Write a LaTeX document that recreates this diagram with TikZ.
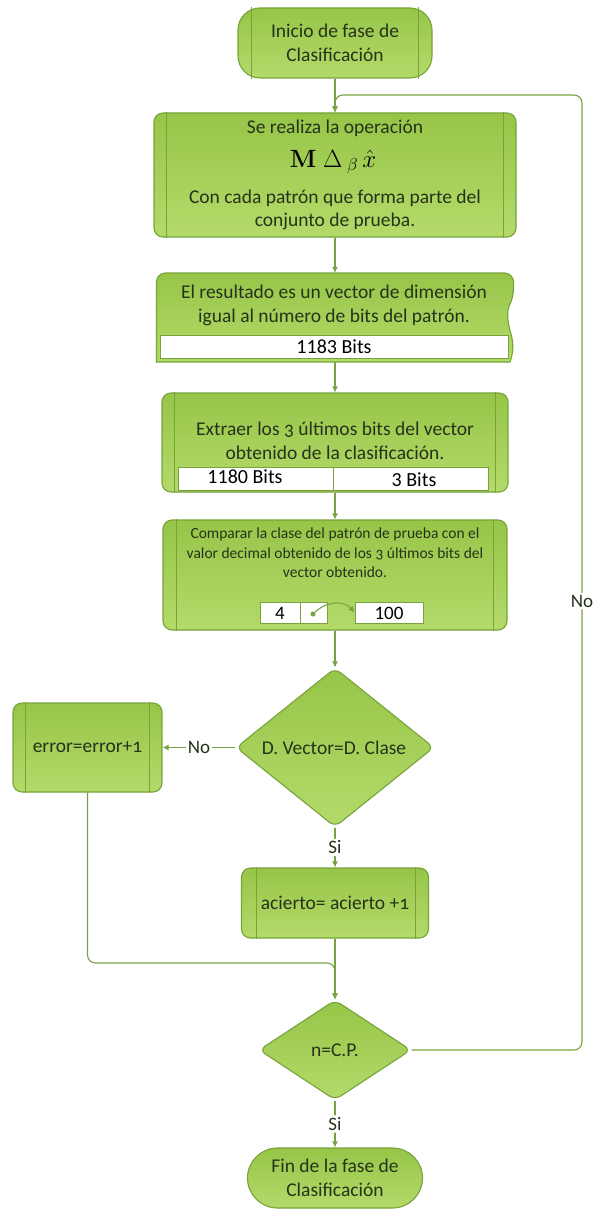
\documentclass[tikz,border=0pt]{standalone}
\usepackage[no-math]{fontspec}
\setmainfont{Carlito}[Numbers=OldStyle]
\newfontfamily\liningfont{Carlito}
\usetikzlibrary{arrows.meta,shapes.geometric,calc}

\definecolor{gfillA}{HTML}{96C548}
\definecolor{gfillB}{HTML}{B4DA6A}
\definecolor{gedge}{HTML}{76A33A}
\definecolor{gline}{HTML}{77A244}
\definecolor{gtext}{HTML}{26331A}

\tikzset{
  shapebase/.style={draw=gedge, line width=1.1pt, top color=gfillA, bottom color=gfillB, inner sep=0pt},
  procbox/.style={shapebase, rectangle, rounded corners=9pt},
  termbox/.style={shapebase, rectangle, rounded corners=22pt},
  stadbox/.style={shapebase, rectangle, rounded corners=30pt},
  decbox/.style={shapebase, diamond, rounded corners=7pt},
  anchorbox/.style={rectangle, draw=none, inner sep=0pt},
  innerline/.style={draw=gedge, line width=0.9pt},
  conn/.style={draw=gline, line width=1.1pt, rounded corners=8pt},
  tip/.style={-{Latex[length=6pt,width=6pt]}},
  txt/.style={text=gtext, font=\fontsize{19.5}{23.5}\selectfont, align=center, inner sep=0pt},
  smalltxt/.style={text=gtext, font=\fontsize{15.5}{19.5}\selectfont, align=center, inner sep=0pt},
  barbox/.style={draw=gedge, line width=0.8pt, fill=white, inner sep=0pt},
  bits/.style={text=black, font=\liningfont\fontsize{20}{24}\selectfont, inner sep=0pt},
  lbl/.style={fill=white, text=gtext, font=\fontsize{19}{22}\selectfont, inner sep=2pt}
}

\begin{document}
\begin{tikzpicture}[x=1pt,y=-1pt]
\useasboundingbox (0,0) rectangle (593,1209);

% start terminator
\node[termbox, minimum width=194pt, minimum height=70pt] (start) at (335,43) {};
\draw[innerline] ([xshift=14pt]start.north west) -- ([xshift=14pt]start.south west);
\draw[innerline] ([xshift=-14pt]start.north east) -- ([xshift=-14pt]start.south east);
\node[txt] (startT) at (335,43) {Inicio de fase de\\Clasificación};

% operation box
\node[procbox, minimum width=362pt, minimum height=124pt] (b1) at (335,175) {};
\draw[innerline] ([xshift=13pt]b1.north west) -- ([xshift=13pt]b1.south west);
\draw[innerline] ([xshift=-13pt]b1.north east) -- ([xshift=-13pt]b1.south east);
\node[txt] (b1a) at (335,128) {Se realiza la operación};
\node[text=black, inner sep=0pt, font=\fontsize{25}{28}\selectfont] (b1m) at (333,162)
  {$\mathbf{M}\;\Delta_{\;\beta}\,\hat{x}$};
\node[txt] (b1b) at (335,210) {Con cada patrón que forma parte del\\conjunto de prueba.};

% result (document shape)
\node[anchorbox, minimum width=357pt, minimum height=89pt] (b2) at (335,317.5) {};
\path[shapebase, rounded corners=9pt]
  (156.5,362) -- (156.5,273) -- (513.5,273) -- (513.5,298)
  [rounded corners=0pt] .. controls (507,310) and (507,322) .. (511,334)
  .. controls (514,344) and (513,354) .. (510,362) -- cycle;
\node[txt] (b2t) at (334,305.5) {El resultado es un vector de dimensión\\igual al número de bits del patrón.};
\node[barbox, minimum width=348pt, minimum height=23pt] (bar1) at (334,346.5) {};
\node[bits] (bar1t) at (334,347) {1183 Bits};

% extraction box
\node[procbox, minimum width=346pt, minimum height=99pt] (b3) at (335,442.5) {};
\draw[innerline] ([xshift=13pt]b3.north west) -- ([xshift=13pt]b3.south west);
\draw[innerline] ([xshift=-13pt]b3.north east) -- ([xshift=-13pt]b3.south east);
\node[txt] (b3t) at (335,441) {Extraer los 3 últimos bits del vector\\obtenido de la clasificación.};
\node[barbox, minimum width=155pt, minimum height=23pt] (bar2a) at (255.5,478.5) {};
\node[barbox, minimum width=155pt, minimum height=23pt] (bar2b) at (410.5,478.5) {};
\node[bits] (bar2at) at (245,477) {1180 Bits};
\node[bits] (bar2bt) at (414,480) {3 Bits};

% comparison box
\node[procbox, minimum width=344pt, minimum height=110pt] (b4) at (335,575) {};
\draw[innerline] ([xshift=14pt]b4.north west) -- ([xshift=14pt]b4.south west);
\draw[innerline] ([xshift=-14pt]b4.north east) -- ([xshift=-14pt]b4.south east);
\node[smalltxt] (b4t) at (335,553) {Comparar la clase del patrón de prueba con el\\valor decimal obtenido de los 3 últimos bits del\\vector obtenido.};
\node[barbox, minimum width=40pt, minimum height=21pt] (c4) at (280,612.5) {};
\node[barbox, minimum width=27pt, minimum height=21pt] (cdot) at (313.5,612.5) {};
\node[barbox, minimum width=68pt, minimum height=21pt] (c100) at (389,612.5) {};
\node[bits, font=\liningfont\fontsize{19}{22}\selectfont] (c4t) at (280,613) {4};
\node[bits, font=\liningfont\fontsize{19}{22}\selectfont] (c100t) at (389,613) {100};
\node[circle, fill=gline, minimum size=5pt, inner sep=0pt] (dot) at (313,614) {};
\draw[conn, tip] (dot) .. controls (328,600) and (345,601) .. (c100.west);

% first decision
\node[decbox, minimum width=198pt, minimum height=159pt] (d1) at (335,747.5) {};
\node[txt] (d1t) at (334,747.5) {D. Vector=D. Clase};

% error counter
\node[procbox, minimum width=149pt, minimum height=89pt] (err) at (87.5,747.5) {};
\draw[innerline] ([xshift=13pt]err.north west) -- ([xshift=13pt]err.south west);
\draw[innerline] ([xshift=-13pt]err.north east) -- ([xshift=-13pt]err.south east);
\node[txt] (errt) at (87.5,747.5) {error=error+1};

% hit counter
\node[procbox, minimum width=187pt, minimum height=70pt] (ac) at (335,903) {};
\draw[innerline] ([xshift=15pt]ac.north west) -- ([xshift=15pt]ac.south west);
\draw[innerline] ([xshift=-14pt]ac.north east) -- ([xshift=-14pt]ac.south east);
\node[txt] (act) at (335,903) {acierto= acierto +1};

% second decision
\node[decbox, minimum width=152pt, minimum height=100pt] (d2) at (335,1050) {};
\node[txt] (d2t) at (335,1050) {n=C.P.};

% end terminator
\node[stadbox, minimum width=175pt, minimum height=60pt] (end) at (335,1178) {};
\node[txt] (endt) at (335,1178) {Fin de la fase de\\Clasificación};

% connectors
\draw[conn, tip] (start) -- (b1);
\draw[conn, tip] (b1) -- (b2);
\draw[conn, tip] (b2) -- (b3);
\draw[conn, tip] (b3) -- (b4);
\draw[conn, tip] (b4) -- (d1);
\draw[conn, tip] (d1) -- node[lbl] (lno1) {No} (err);
\draw[conn, tip] (d1) -- node[lbl] (lsi1) {Si} (ac);
\draw[conn, tip] (ac) -- (d2);
\coordinate (mj) at (335,963);
\draw[conn, tip] (err.south) |- (mj) -- (d2.north);
\coordinate (lpA) at (582,1050);
\coordinate (lpB) at (582,95);
\draw[conn, tip] (d2.east) -- (lpA) -- node[lbl, pos=0.47] (lno2) {No} (lpB) -| (b1.north);
\draw[conn, tip] (d2) -- node[lbl] (lsi2) {Si} (end);
\end{tikzpicture}
\end{document}
